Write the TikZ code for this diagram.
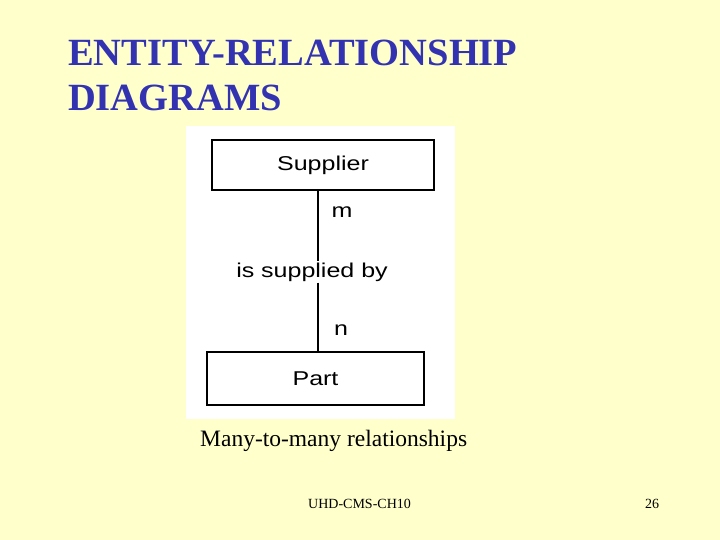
\documentclass[tikz,border=0pt]{standalone}
\usepackage{fontspec}
\setmainfont{Liberation Serif}
\setsansfont{Liberation Sans}
\newfontfamily\erfont[FakeStretch=1.25]{Liberation Sans}
\usepackage{tikz}
\usetikzlibrary{positioning}
\definecolor{slidebg}{RGB}{255,255,204}
\definecolor{titleblue}{RGB}{51,51,178}
\tikzset{
	entity/.style={draw,line width=1.6pt,fill=white,font=\erfont\fontsize{20}{24}\selectfont},
	relname/.style={fill=white,inner sep=1pt,font=\erfont\fontsize{20}{24}\selectfont},
	card/.style={font=\erfont\fontsize{20}{24}\selectfont,inner sep=0pt}
}

\begin{document}
\begin{tikzpicture}[x=1pt,y=-1pt]
		\fill[slidebg] (0,0) rectangle (720,540);
		\useasboundingbox (0,0) rectangle (720,540);
		% title
		\node(title) [anchor=base west,align=left,text=titleblue,font=\bfseries\fontsize{38.5}{45}\selectfont,inner sep=0pt] at (68,111)
			{ENTITY-RELATIONSHIP\\DIAGRAMS};
		% white panel
		\fill[white] (186,126) rectangle (455,419);
		\node(sup) [entity,minimum width=222pt,minimum height=50pt] at (323,165) {Supplier};
		\node(part) [entity,minimum width=217pt,minimum height=53pt] at (315.5,378.5) {Part};
		\node(rel) [relname] at (312,272) {is supplied by};
		\coordinate (ln) at (318,0);
		\draw[line width=1.6pt] (sup.south -| ln) -- (rel.north -| ln)
			  (rel.south -| ln) -- (part.north -| ln);
		\node(m) [card] at (342,212) {m};
		\node(n) [card] at (341,330) {n};
		% captions
		\node(cap) [anchor=base west,inner sep=0pt,font=\fontsize{23.5}{26}\selectfont] at (200,446) {Many-to-many relationships};
		\node(foot) [anchor=base west,inner sep=0pt,font=\fontsize{14}{16}\selectfont] at (308,508) {UHD-CMS-CH10};
		\node(page) [anchor=base west,inner sep=0pt,font=\fontsize{14}{16}\selectfont] at (645,508) {26};
	\end{tikzpicture}
\end{document}
